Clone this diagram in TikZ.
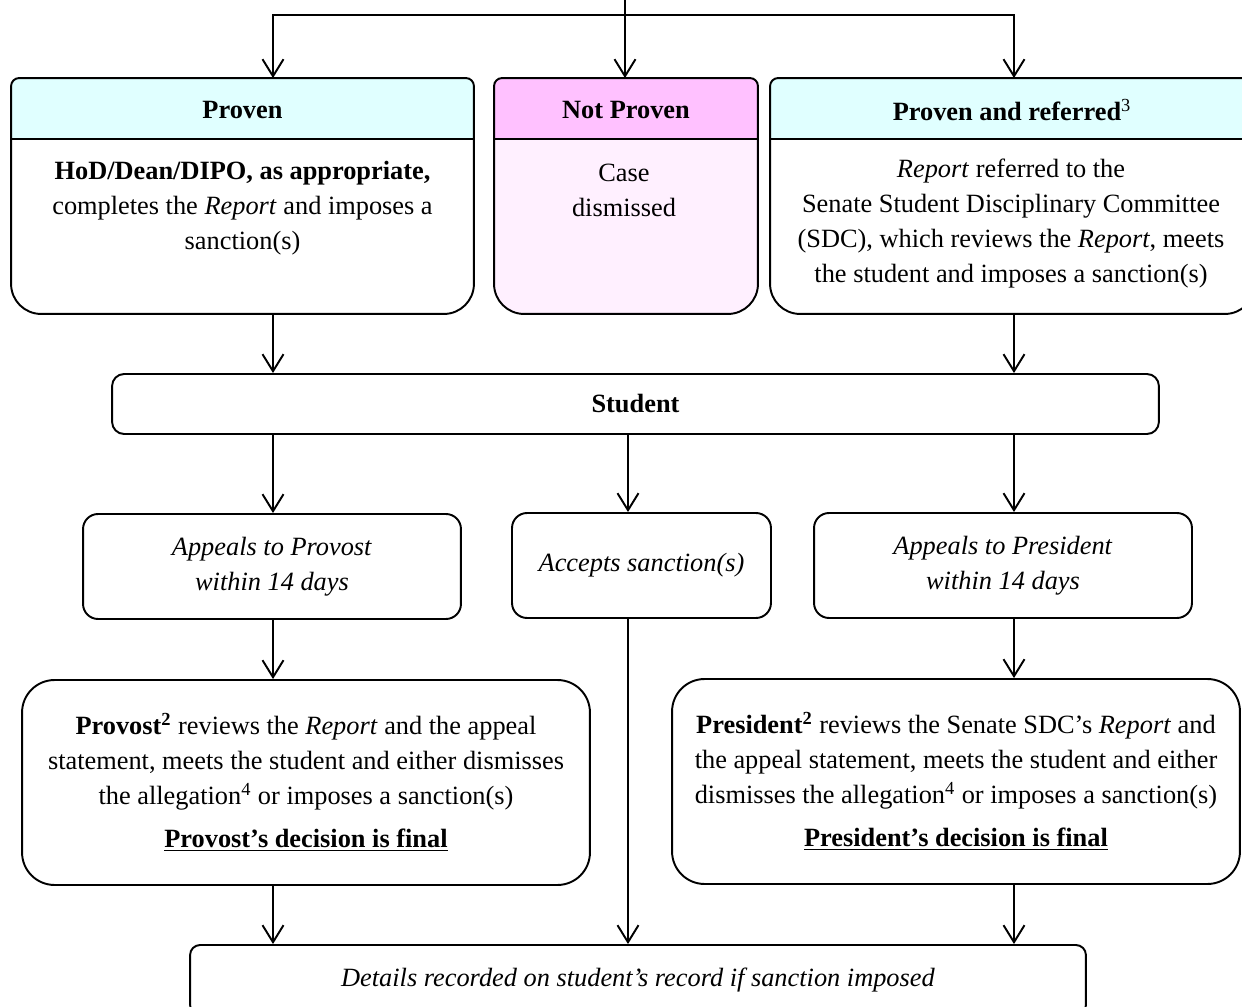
\documentclass[tikz,border=0pt]{standalone}
\usepackage{fontspec}
\setmainfont{Liberation Serif}
\usepackage{tikz}
\usetikzlibrary{arrows.meta, positioning, calc}

\definecolor{headcyan}{HTML}{E0FFFF}
\definecolor{headpink}{HTML}{FFC1FF}
\definecolor{bodypink}{HTML}{FFF0FF}

\begin{document}
\begin{tikzpicture}[
  x=0.02cm, y=-0.02cm, line width=1.1pt,
  txt/.style={align=center, inner sep=0pt, font=\fontsize{15}{19.8}\selectfont},
  frame/.style={inner sep=0pt, minimum height=4.68cm},
  box/.style={draw, rounded corners=0.3cm, align=center, inner sep=0pt, font=\fontsize{15}{19.8}\selectfont},
  arr/.style={-{Straight Barb[length=0.34cm, width=0.42cm]}}
]
\useasboundingbox (0,0) rectangle (1242,1007);
\clip (0,0) rectangle (1242,1007);

% Outcome frames
\node[frame, minimum width=9.22cm] (proven)    at (242.5,196) {};
\node[frame, minimum width=5.24cm] (notproven) at (626,196)   {};
\node[frame, minimum width=9.66cm] (referred)  at (1012.5,196) {};
\coordinate (hdline) at (0,139);

\foreach \b/\hc/\bc in {proven/headcyan/white, notproven/headpink/bodypink, referred/headcyan/white} {
  \fill[\bc] (\b.west) [rounded corners=0.16cm] -- (\b.north west) -- (\b.north east) -- (\b.east)
    [rounded corners=0.6cm] -- (\b.south east) -- (\b.south west) -- cycle;
  \begin{scope}
    \clip (\b.north west) rectangle (\b.east |- hdline);
    \fill[\hc] (\b.west) [rounded corners=0.16cm] -- (\b.north west) -- (\b.north east) -- (\b.east) -- cycle;
  \end{scope}
  \draw (\b.west) [rounded corners=0.16cm] -- (\b.north west) -- (\b.north east) -- (\b.east)
    [rounded corners=0.6cm] -- (\b.south east) -- (\b.south west) -- cycle;
  \draw (\b.west |- hdline) -- (\b.east |- hdline);
}

% Outcome texts
\node[txt] (provenhd)    at (242.5,110) {\textbf{Proven}};
\node[txt] (notprovenhd) at (626,110)   {\textbf{Not Proven}};
\node[txt] (referredhd)  at (1012,110)  {\textbf{Proven and referred}\textsuperscript{3}};
\node[txt] (proventx)    at (242.5,208) {\textbf{HoD/Dean/DIPO, as appropriate,}\\ completes the \emph{Report} and imposes a\\ sanction(s)};
\node[txt] (notproventx) at (624,190.5) {Case\\ dismissed};
\node[txt] (referredtx)  at (1011,223.5) {\emph{Report} referred to the\\ Senate Student Disciplinary Committee\\ (SDC), which reviews the \emph{Report}, meets\\ the student and imposes a sanction(s)};

% Student and choices
\node[box, rounded corners=0.24cm, minimum width=20.94cm, minimum height=1.2cm] (student) at (635.5,404) {\textbf{Student}};
\node[box, minimum width=7.56cm, minimum height=2.1cm] (provapp) at (272,566.5)  {\textit{Appeals to Provost}\\ \textit{within 14 days}};
\node[box, minimum width=5.18cm, minimum height=2.1cm] (accepts) at (641.5,565.5) {\textit{Accepts sanction(s)}};
\node[box, minimum width=7.56cm, minimum height=2.1cm] (presapp) at (1003,565.5) {\textit{Appeals to President}\\ \textit{within 14 days}};

% Appeal decisions
\node[box, rounded corners=0.65cm, minimum width=11.36cm, minimum height=4.1cm] (provost) at (306,782.5)
  {\textbf{Provost\textsuperscript{2}} reviews the \emph{Report} and the appeal\\ statement, meets the student and either dismisses\\ the allegation\textsuperscript{4} or imposes a sanction(s)\\[5pt] \underline{\textbf{Provost’s decision is final}}};
\node[box, rounded corners=0.65cm, minimum width=11.36cm, minimum height=4.1cm] (president) at (956,781.5)
  {\textbf{President\textsuperscript{2}} reviews the Senate SDC’s \emph{Report} and\\ the appeal statement, meets the student and either\\ dismisses the allegation\textsuperscript{4} or imposes a sanction(s)\\[5pt] \underline{\textbf{President’s decision is final}}};

% Record
\node[box, rounded corners=0.2cm, minimum width=17.92cm, minimum height=1.4cm] (record) at (638,980)
  {\textit{Details recorded on student’s record if sanction imposed}};

% Connectors
\coordinate (src)   at (625,0);
\coordinate (split) at (625,15);
\coordinate (colL)  at (273,0);
\coordinate (colM)  at (628,0);
\coordinate (colR)  at (1014,0);

\draw (src) -- (split);
\draw[arr] (split) -| (proven.north -| colL);
\draw[arr] (split) -- (notproven.north -| split);
\draw[arr] (split) -| (referred.north -| colR);

\draw[arr] (proven.south -| colL)   -- (student.north -| colL);
\draw[arr] (referred.south -| colR) -- (student.north -| colR);

\draw[arr] (student.south -| colL) -- (provapp.north -| colL);
\draw[arr] (student.south -| colM) -- (accepts.north -| colM);
\draw[arr] (student.south -| colR) -- (presapp.north -| colR);

\draw[arr] (provapp.south -| colL) -- (provost.north -| colL);
\draw[arr] (presapp.south -| colR) -- (president.north -| colR);
\draw[arr] (accepts.south -| colM) -- (record.north -| colM);

\draw[arr] (provost.south -| colL)   -- (record.north -| colL);
\draw[arr] (president.south -| colR) -- (record.north -| colR);

\end{tikzpicture}
\end{document}
